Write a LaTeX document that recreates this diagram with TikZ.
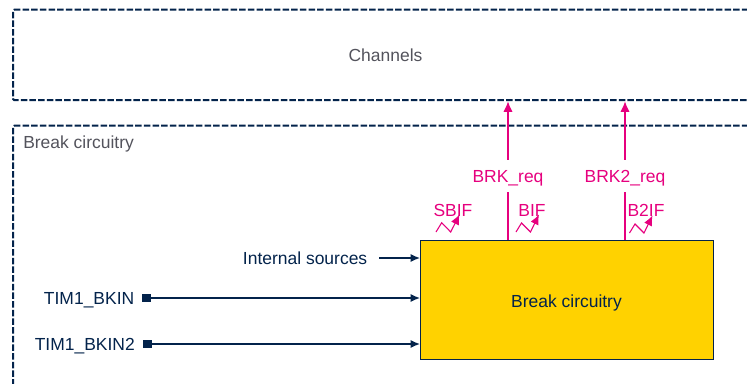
\documentclass[tikz,border=0pt]{standalone}
\usepackage{fontspec}
\setmainfont{Liberation Sans}
\usetikzlibrary{arrows.meta}
\definecolor{navy}{HTML}{03234B}
\definecolor{magen}{HTML}{E6007E}
\definecolor{gold}{HTML}{FFD200}
\definecolor{greytext}{HTML}{53535C}
\tikzset{
  x=0.75pt,y=-0.75pt,
  lbl/.style={font=\fontsize{13.1pt}{15pt}\selectfont,inner sep=0pt,text height=9.3pt,text depth=0pt},
  dashbox/.style={draw=navy,line width=1.6pt,dash pattern=on 4.9pt off 1.6pt,rounded corners=1pt,anchor=north west,inner sep=0pt},
  navyarrow/.style={draw=navy,line width=1pt,-{Latex[length=7pt,width=6pt]}},
  magarrow/.style={draw=magen,line width=1pt,-{Latex[length=8pt,width=7pt]}},
  magline/.style={draw=magen,line width=1pt},
  pin/.style={fill=navy,minimum size=6.6pt,inner sep=0pt,anchor=west},
  flash/.style={draw=magen,line width=0.8pt,-{Latex[length=7.5pt,width=6.5pt]}},
}
\begin{document}
\begin{tikzpicture}
\clip (0,0) rectangle (747,383);
\node[dashbox,minimum width=780*0.75pt,minimum height=90.5*0.75pt] (chan) at (12,8.6) {};
\node[dashbox,minimum width=780*0.75pt,minimum height=300*0.75pt] (brkarea) at (12,124.6) {};
\node[lbl,text=greytext] (chanlabel) at (385.5,55) {Channels};
\node[lbl,text=greytext,anchor=west] (arealabel) at (23,142) {Break circuitry};
\node[draw=navy,line width=1pt,fill=gold,minimum width=293*0.75pt,minimum height=119*0.75pt,anchor=north west,inner sep=0pt] (core) at (420,240) {};
\node[lbl,text=navy] (corelabel) at (566.5,301) {Break circuitry};
% request signals
\node[lbl,text=magen,minimum height=32*0.75pt] (brk) at (508,176) {BRK\_req};
\node[lbl,text=magen,minimum height=32*0.75pt] (brktwo) at (625,176) {BRK2\_req};
\draw[magarrow] (brk.north) -- (brk.north |- chan.south);
\draw[magarrow] (brktwo.north) -- (brktwo.north |- chan.south);
\draw[magline] (brk.south) -- (brk.south |- core.north);
\draw[magline] (brktwo.south) -- (brktwo.south |- core.north);
% flags
\node[lbl,text=magen] (sbif) at (453,210) {SBIF};
\node[lbl,text=magen] (bif) at (532,210) {BIF};
\node[lbl,text=magen] (btwoif) at (646,210) {B2IF};
\draw[flash] (436,232) -- (441.7,222.7) -- (450.7,232) -- (459.5,214.5);
\draw[flash] (516,232) -- (521.5,223) -- (530.5,232) -- (539,214.5);
\draw[flash] (629.5,233) -- (635,224) -- (644,233) -- (652.5,215.5);
% inputs
\node[lbl,text=navy,anchor=east] (intsrc) at (367.5,258) {Internal sources};
\coordinate (intstart) at (379,258);
\draw[navyarrow] (intstart) -- (intstart -| core.west);
\node[pin] (pinone) at (142,298) {};
\node[pin] (pintwo) at (143,344) {};
\node[lbl,text=navy,anchor=east] (bkin) at (134.5,298) {TIM1\_BKIN};
\node[lbl,text=navy,anchor=east] (bkintwo) at (135,344) {TIM1\_BKIN2};
\draw[navyarrow] (pinone.center) -- (pinone.center -| core.west);
\draw[navyarrow] (pintwo.center) -- (pintwo.center -| core.west);
\end{tikzpicture}
\end{document}
